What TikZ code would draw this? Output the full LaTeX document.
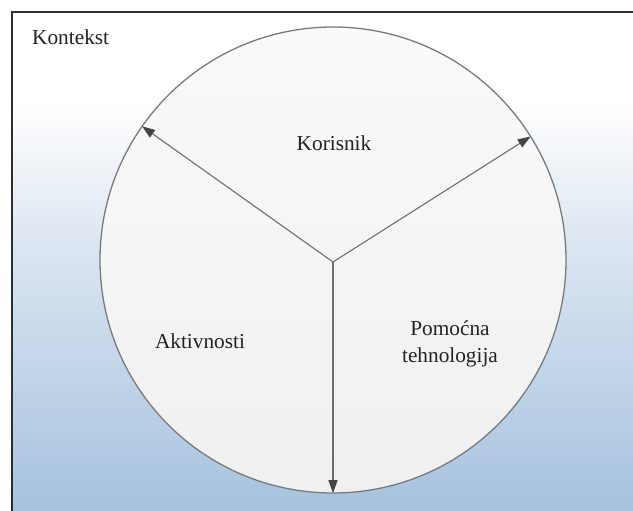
\documentclass[tikz,border=0pt]{standalone}
\usepackage{fontspec}
\setmainfont{Liberation Serif}
\usetikzlibrary{arrows.meta}
\definecolor{bgblue}{HTML}{A6C2DE}
\definecolor{bgmid}{HTML}{D9E4F0}
\definecolor{ringgray}{HTML}{7A7A7A}
\definecolor{arrowgray}{HTML}{6E6E6E}
\definecolor{arrowtip}{HTML}{444444}
\definecolor{framecol}{HTML}{2E2E2E}
\definecolor{textcol}{HTML}{222222}
\tikzset{
  lbl/.style={font=\fontsize{21.3}{27}\selectfont, text=textcol, inner sep=0pt},
  ring/.style={circle, draw=ringgray, line width=1.3pt, minimum size=466pt, inner sep=0pt,
    top color=white!98!black, bottom color=white!94!black},
  spoke/.style={draw=arrowgray, line width=1.1pt, -{Triangle[length=13pt,width=9pt,color=arrowtip]}, shorten >=0.5pt},
  framestyle/.style={draw=framecol, line width=2pt}
}
\begin{document}
\begin{tikzpicture}[x=1pt,y=-1pt]
\useasboundingbox (0,0) rectangle (633,511);
\clip (0,0) rectangle (633,511);
\fill[white] (0,0) rectangle (633,511);
\shade[top color=white, bottom color=bgmid] (12,100) rectangle (640,255.5);
\shade[top color=bgmid, bottom color=bgblue] (12,255) rectangle (640,511);
\draw[framestyle] (12,520) -- (12,12) -- (640,12);
\node[ring] (c) at (333,260) {};
\coordinate (o) at (333,262);
\draw[spoke] (o) -- (c.145);
\draw[spoke] (o) -- (c.32);
\draw[spoke] (o) -- (c.270);
\node[lbl, anchor=base west] (kontekst) at (32,45) {Kontekst};
\node[lbl, anchor=base] (korisnik) at (334,150) {Korisnik};
\node[lbl, anchor=base] (aktivnosti) at (200,348) {Aktivnosti};
\node[lbl, align=center, anchor=center] (pomocna) at (450,343.5) {Pomoćna\\tehnologija};
\end{tikzpicture}
\end{document}
